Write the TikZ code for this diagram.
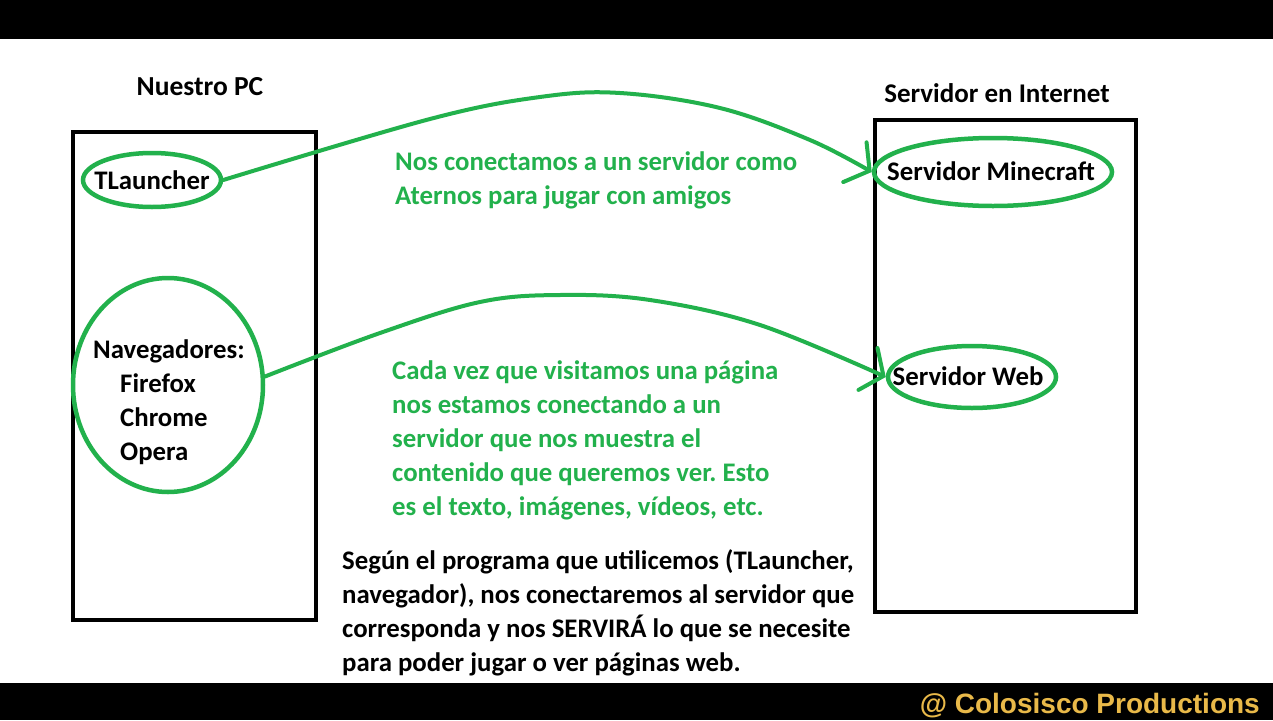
\documentclass[tikz,border=0pt]{standalone}
\usepackage{fontspec}
\setmainfont{Carlito}
\newfontfamily\wmfont{Liberation Sans}
\usetikzlibrary{shapes.geometric,arrows.meta}
\definecolor{pgreen}{HTML}{22B14C}
\definecolor{wmgold}{HTML}{E9B949}
\frenchspacing
\begin{document}
\begin{tikzpicture}[x=1pt,y=-1pt,
  lbl/.style={font=\bfseries\fontsize{26.8}{34}\selectfont,inner sep=0pt},
  oval/.style={ellipse,draw=pgreen,line width=4.5pt,inner sep=0pt},
  box/.style={draw=black,line width=4.5pt},
  conn/.style={pgreen,line width=4pt,line cap=round,-{Straight Barb[length=17pt,width=46pt,line cap=round]}},
  para/.style={lbl,align=left,anchor=north west},
]
\useasboundingbox (0,0) rectangle (1273,720);
\clip (0,0) rectangle (1273,720);
\fill[white] (0,0) rectangle (1273,720);
\fill[black] (0,0) rectangle (1273,39);
\fill[black] (0,683) rectangle (1273,720);

% boxes
\draw[box] (73,132) rectangle (316,620);
\draw[box] (875,120) rectangle (1136,612);

% titles
\node[lbl,font=\bfseries\fontsize{27.5}{34}\selectfont] (pc) at (200,87) {Nuestro PC};
\node[lbl,font=\bfseries\fontsize{27}{34}\selectfont] (si) at (997,93) {Servidor en Internet};

% ovals
\node[oval,minimum width=138pt,minimum height=54pt,label={[lbl]center:TLauncher}] (tl) at (152,180) {};
\node[oval,minimum width=190pt,minimum height=214pt] (nav) at (168,385) {};
\node[para] (navtxt) at (93,339) {Navegadores:\\\hspace*{27pt}Firefox\\\hspace*{27pt}Chrome\\\hspace*{27pt}Opera};
\node[oval,minimum width=238pt,minimum height=68pt,label={[lbl,xshift=-2pt,yshift=1pt]center:Servidor Minecraft}] (mc) at (993,172) {};
\node[oval,minimum width=168pt,minimum height=62pt,label={[lbl,xshift=-4pt,yshift=1pt]center:Servidor Web}] (web) at (972,377) {};

% connectors
\draw[conn] plot[smooth,tension=0.6] coordinates {(tl.east) (430,119) (540,97) (620,93) (720,108) (810,140) (mc.west)};
\draw[conn] plot[smooth,tension=0.6] coordinates {(nav.5) (380,333) (480,302) (560,295) (650,300) (760,325) (web.west)};

% texts
\node[para,text=pgreen] (g1) at (395,151) {Nos conectamos a un servidor como\\Aternos para jugar con amigos};
\node[para,text=pgreen] (g2) at (392,360) {Cada vez que visitamos una página\\nos estamos conectando a un\\servidor que nos muestra el\\contenido que queremos ver. Esto\\es el texto, imágenes, vídeos, etc.};
\node[para] (bt) at (342,549) {Según el programa que utilicemos (TLauncher,\\navegador), nos conectaremos al servidor que\\corresponda y nos SERVIRÁ lo que se necesite\\para poder jugar o ver páginas web.};

% watermark
\node[font=\wmfont\bfseries\fontsize{28}{30}\selectfont,text=wmgold,anchor=base east,inner sep=0pt] (wm) at (1260,713) {@ Colosisco Productions};
\end{tikzpicture}
\end{document}
